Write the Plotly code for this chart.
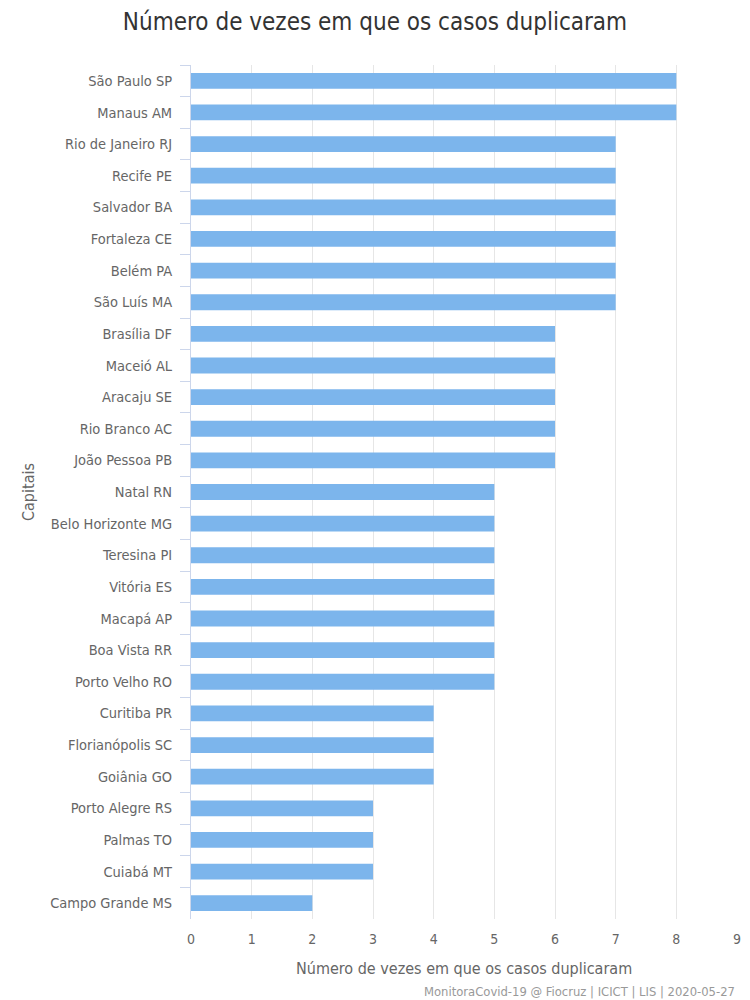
import plotly.graph_objects as go

capitais = ["São Paulo SP", "Manaus AM", "Rio de Janeiro RJ", "Recife PE", "Salvador BA",
            "Fortaleza CE", "Belém PA", "São Luís MA", "Brasília DF", "Maceió AL",
            "Aracaju SE", "Rio Branco AC", "João Pessoa PB", "Natal RN", "Belo Horizonte MG",
            "Teresina PI", "Vitória ES", "Macapá AP", "Boa Vista RR", "Porto Velho RO",
            "Curitiba PR", "Florianópolis SC", "Goiânia GO", "Porto Alegre RS", "Palmas TO",
            "Cuiabá MT", "Campo Grande MS"]
duplicacoes = [8, 8, 7, 7, 7, 7, 7, 7, 6, 6, 6, 6, 6, 5, 5, 5, 5, 5, 5, 5, 4, 4, 4, 3, 3, 3, 2]
x_ticks = list(range(0, 10))

FONT = "DejaVu Sans Condensed, Liberation Sans Narrow, Open Sans, sans-serif"

fig = go.Figure(go.Bar(
    x=duplicacoes, y=capitais, orientation="h",
    marker=dict(color="#7cb5ec", line=dict(width=0)),
    hoverinfo="x+y",
))

fig.update_layout(
    width=750, height=1000,
    paper_bgcolor="white", plot_bgcolor="white",
    margin=dict(l=191, r=13, t=65, b=81, autoexpand=False),
    font=dict(family=FONT, color="#666666", size=14),
    title=dict(text="Número de vezes em que os casos duplicaram", x=0.5, xanchor="center",
               y=0.978, yanchor="middle",
               font=dict(size=24, color="#333333", family=FONT)),
    bargap=0.5,
    showlegend=False,
)

fig.update_xaxes(
    range=[0, 9], tickvals=x_ticks, showgrid=True, gridcolor="#e6e6e6", gridwidth=1,
    zeroline=False, showline=False, ticks="", automargin=False, ticklabelstandoff=10,
    tickfont=dict(size=14, color="#666666"),
)
fig.update_yaxes(
    categoryorder="array", categoryarray=capitais, autorange="reversed",
    showgrid=False, showline=True, linecolor="#ccd6eb", linewidth=1,
    ticks="outside", tickson="boundaries", ticklen=10, tickcolor="#ccd6eb",
    ticklabelstandoff=15, automargin=False,
    tickfont=dict(size=14.5, color="#666666"),
)

# axis titles
fig.add_annotation(text="Número de vezes em que os casos duplicaram",
                   xref="paper", yref="paper", x=0.5, y=-49 / 854, xanchor="center", yanchor="middle",
                   showarrow=False, font=dict(size=16, color="#666666", family=FONT))
fig.add_annotation(text="Capitais", textangle=-90,
                   xref="paper", yref="paper", x=-163 / 546, y=0.5, xanchor="center", yanchor="middle",
                   showarrow=False, font=dict(size=16, color="#666666", family=FONT))

fig.add_annotation(text="MonitoraCovid-19 @ Fiocruz | ICICT | LIS | 2020-05-27",
                   xref="paper", yref="paper", x=1, y=-72 / 854, xanchor="right", yanchor="middle",
                   showarrow=False, font=dict(size=12.9, color="#999999", family=FONT))

fig.write_html("out.html", config={"displayModeBar": False},
               post_script="document.body.style.margin='0px';")
